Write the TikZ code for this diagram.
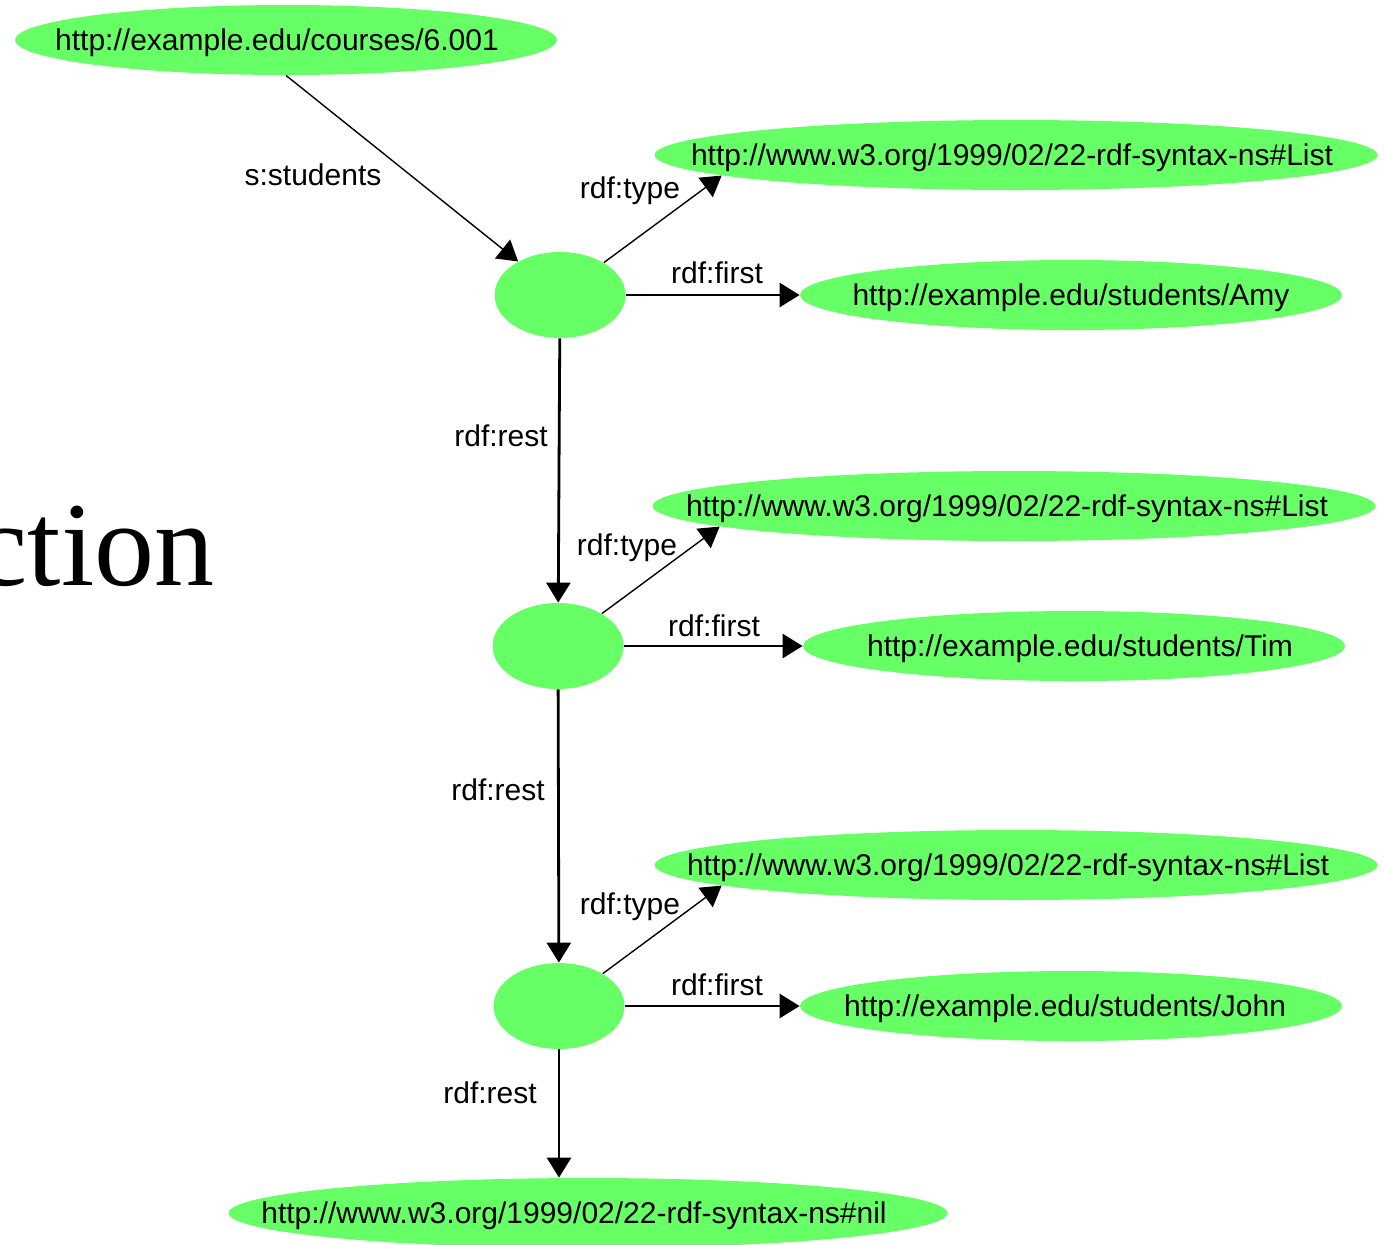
\documentclass[tikz,border=0pt]{standalone}
\usepackage{fontspec}
\setmainfont{Liberation Sans}
\newfontfamily\titleserif{Liberation Serif}
\usetikzlibrary{arrows.meta,shapes.geometric}
\definecolor{rdfgreen}{RGB}{102,255,102}
% zero-width text so the ellipse keeps its own size; optional horizontal nudge
\newcommand{\uritext}[2][0pt]{\makebox[0pt]{\hspace*{#1}#2\hspace*{-#1}}}
\begin{document}
\begin{tikzpicture}[x=0.5pt,y=-0.5pt,
  uri/.style={ellipse, fill=rdfgreen, inner sep=0pt, minimum height=35pt,
    text depth=0pt, font=\fontsize{15}{18}\selectfont},
  shorturi/.style={uri, minimum width=271pt},
  longuri/.style={uri, minimum width=361.5pt},
  blank/.style={ellipse, fill=rdfgreen, inner sep=0pt,
    minimum width=65.5pt, minimum height=43pt},
  prop/.style={anchor=base, inner sep=0pt, font=\fontsize{15}{18}\selectfont},
  link/.style={-{Triangle[length=10pt,width=12pt]}, line width=1.4pt},
  typelink/.style={-{Triangle[length=10pt,width=12pt]}, line width=0.7pt}]
\useasboundingbox (0,0) rectangle (1384,1244);
\clip (0,0) rectangle (1384,1244);

% slide title fragment
\node[anchor=base east, inner sep=0pt, font=\titleserif\fontsize{60}{70}\selectfont]
  (title) at (215,585) {ction};

% resources
\node[shorturi] (course) at (286,40) {\uritext[-4.5pt]{http://example.edu/courses/6.001}};
\node[longuri]  (list1) at (1016,155) {\uritext[-2pt]{http://www.w3.org/1999/02/22-rdf-syntax-ns\#List}};
\node[blank]    (b1) at (560,295) {};
\node[shorturi] (amy) at (1071,295) {\uritext{http://example.edu/students/Amy}};
\node[longuri]  (list2) at (1014,506) {\uritext[-3.5pt]{http://www.w3.org/1999/02/22-rdf-syntax-ns\#List}};
\node[blank]    (b2) at (558,646) {};
\node[shorturi] (tim) at (1074,646) {\uritext[3pt]{http://example.edu/students/Tim}};
\node[longuri]  (list3) at (1016,865) {\uritext[-4pt]{http://www.w3.org/1999/02/22-rdf-syntax-ns\#List}};
\node[blank]    (b3) at (559,1006) {};
\node[shorturi] (john) at (1071,1006) {\uritext[-3pt]{http://example.edu/students/John}};
\node[uri, minimum width=359.5pt] (nil) at (588,1213) {\uritext[-7pt]{http://www.w3.org/1999/02/22-rdf-syntax-ns\#nil}};

% properties
\draw[typelink] (course.south) -- (b1);
\draw[typelink] (b1) -- (list1.184.2);
\draw[link] (b1) -- (amy);
\draw[link] (b1) -- (b2);
\draw[typelink] (b2) -- (list2.184.2);
\draw[link] (b2) -- (tim);
\draw[link] (b2) -- (b3);
\draw[typelink] (b3) -- (list3.184.2);
\draw[link] (b3) -- (john);
\draw[link] (b3.south) -- (b3.south |- nil.north);

% property labels
\node[prop] (lstud) at (313,185) {s:students};
\node[prop] (ltype1) at (630,198) {rdf:type};
\node[prop] (lfirst1) at (717,283) {rdf:first};
\node[prop] (lrest1) at (501,446) {rdf:rest};
\node[prop] (ltype2) at (627,555) {rdf:type};
\node[prop] (lfirst2) at (714,636) {rdf:first};
\node[prop] (lrest2) at (498,800) {rdf:rest};
\node[prop] (ltype3) at (630,914) {rdf:type};
\node[prop] (lfirst3) at (717,995) {rdf:first};
\node[prop] (lrest3) at (490,1103) {rdf:rest};
\end{tikzpicture}
\end{document}
